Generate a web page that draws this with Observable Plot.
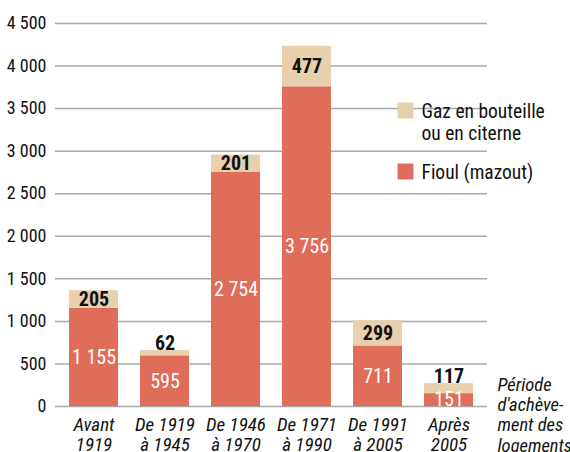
<!DOCTYPE html>
<html><head><meta charset="utf-8">
<script src="https://cdn.jsdelivr.net/npm/d3@7"></script>
<script src="https://cdn.jsdelivr.net/npm/@observablehq/plot@0.6"></script>
<style>body{margin:0;background:#fff} svg{display:block} svg text{font-stretch:75%}</style>
</head><body><div id="chart"></div>
<script>
const periods = ["Avant\n1919", "De 1919\nà 1945", "De 1946\nà 1970", "De 1971\nà 1990", "De 1991\nà 2005", "Après\n2005"];
const fioul = [1155, 595, 2754, 3756, 711, 151];
const gaz = [205, 62, 201, 477, 299, 117];
const yTicks = [0, 500, 1000, 1500, 2000, 2500, 3000, 3500, 4000, 4500];
const seriesKeys = ["Fioul", "Gaz"];
const seriesNames = ["Fioul (mazout)", "Gaz en bouteille\nou en citerne"];
const colors = ["#e06c5a", "#e8cfae"];
const noteText = "Période\nd'achève-\nment des\nlogements";

const rows = periods.flatMap((p, i) => [
  {period: p, type: seriesKeys[0], value: fioul[i]},
  {period: p, type: seriesKeys[1], value: gaz[i]}
]);
const labels = periods.map((p, i) => ({period: p, f: fioul[i], g: gaz[i]}));
const fmt = d => d3.format(",")(d).replace(/,/g, "\u00a0");
const font = "'Roboto Condensed', Roboto, sans-serif";

const chart = Plot.plot({
  width: 570, height: 452,
  marginLeft: 55, marginRight: 83, marginTop: 23, marginBottom: 46,
  style: {fontFamily: font, fontSize: "17px", color: "#111", background: "#fff"},
  x: {domain: periods, paddingInner: 0.3056, paddingOuter: 0.153, label: null},
  y: {domain: [0, 4500], label: null},
  color: {domain: seriesKeys, range: colors},
  marks: [
    Plot.ruleY(yTicks, {stroke: "#a9a9a9", strokeWidth: 1.5}),
    Plot.barY(rows, {x: "period", y: "value", fill: "type"}),
    Plot.axisY({ticks: yTicks, tickFormat: fmt, tickSize: 0, tickPadding: 9, fontSize: 18, fill: "#111"}),
    Plot.axisX({tickSize: 0, tickPadding: 10, fontStyle: "italic", fontSize: 19, lineHeight: 1.05, fill: "#111"}),
    Plot.text(labels, {x: "period", y: d => d.f / 2, text: d => fmt(d.f), fill: "white", fontSize: 20}),
    Plot.text(labels, {filter: d => d.g >= 150, x: "period", y: d => d.f + d.g / 2, text: d => fmt(d.g), fill: "#111", fontWeight: "bold", fontSize: 20}),
    Plot.text(labels, {filter: d => d.g < 150, x: "period", y: d => d.f + d.g, text: d => fmt(d.g), fill: "#111", fontWeight: "bold", fontSize: 20, lineAnchor: "bottom", dy: -1}),
    Plot.text([noteText], {text: d => d, frameAnchor: "bottom-right", dx: 10, dy: 8, textAnchor: "start", lineAnchor: "middle", fontStyle: "italic", fontSize: 18.5, lineHeight: 1.1, fill: "#111"}),
    Plot.dot([colors[1]], {frameAnchor: "top-right", dx: -82, dy: 87, symbol: "square", r: 9, fill: d => d}),
    Plot.dot([colors[0]], {frameAnchor: "top-right", dx: -82, dy: 148, symbol: "square", r: 9, fill: d => d}),
    Plot.text([seriesNames[1]], {text: d => d, frameAnchor: "top-right", dx: -66, dy: 98.5, textAnchor: "start", lineAnchor: "middle", fontSize: 19.5, lineHeight: 1.15, fill: "#111"}),
    Plot.text([seriesNames[0]], {text: d => d, frameAnchor: "top-right", dx: -66, dy: 149, textAnchor: "start", lineAnchor: "middle", fontSize: 19.5, fill: "#111"})
  ]
});
document.getElementById("chart").appendChild(chart);
</script>
</body></html>
